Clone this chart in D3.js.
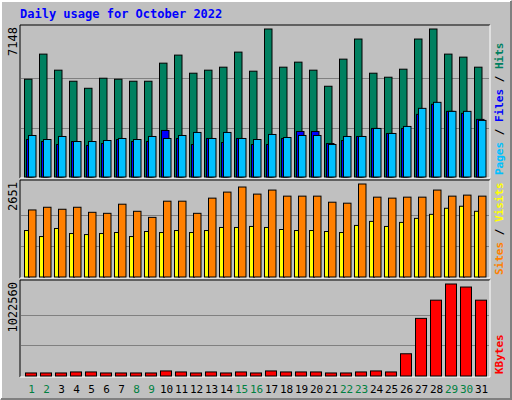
<!DOCTYPE html>
<html><head><meta charset="utf-8">
<script src="https://cdn.jsdelivr.net/npm/d3@7"></script>
<style>body{margin:0;background:#fff}svg{display:block}text{font-family:"DejaVu Sans Mono",monospace}</style>
</head><body><div id="chart"></div>
<script>
// data
const days = d3.range(1, 32);
const weekends = [1, 2, 8, 9, 15, 16, 22, 23, 29, 30];
const hits = [4722,5935,5159,4625,4285,4771,4722,4625,4625,5498,5887,5013,5159,5304,6032,5110,7148,5304,5547,5159,4383,5692,6663,5013,4819,5207,6663,7148,5935,5789,5304];
const files = [2005,1811,1957,1714,1714,1763,1860,1811,1957,1860,2005,2151,1860,2151,1860,1811,2054,1908,2005,2005,1569,1957,1957,2345,2102,2442,3315,3606,3170,3170,2733];
const pages = [1811,1714,1569,1714,1520,1617,1811,1714,1714,2248,1860,1569,1860,1666,1860,1569,1569,1860,2199,2199,1617,1763,1957,2345,2102,2345,3024,3509,3170,3073,2782];
const visits = [1911,1988,1931,1988,1844,1815,2075,1873,1700,2161,2161,1815,2248,2420,2565,2363,2478,2305,2305,2305,2132,2104,2651,2276,2248,2276,2276,2478,2305,2334,2305];
const sites = [1325,1153,1383,1239,1210,1239,1268,1153,1297,1268,1325,1268,1325,1412,1412,1441,1412,1354,1325,1325,1297,1268,1470,1585,1441,1556,1671,1786,1959,2017,1873];
const kbytes = [33712,33712,33712,44948,44948,33712,33712,33712,33712,56185,44948,33712,44948,33712,44948,33712,56185,44948,44948,44948,33712,33712,44948,56185,44948,247216,640506,842769,1022560,988850,842769];

const W = 512, H = 400;
const svg = d3.select("#chart").append("svg").attr("width", W).attr("height", H);

// background + bevel
svg.append("rect").attr("width", W).attr("height", H).attr("fill", "#C0C0C0");
svg.append("path").attr("d", `M1,${H-1}V1H${W-1}`).attr("stroke", "#fff").attr("stroke-width", 2).attr("fill", "none");
svg.append("path").attr("d", `M1,${H-1}H${W-1}V1`).attr("stroke", "#808080").attr("stroke-width", 2).attr("fill", "none");

svg.append("text").attr("x", 20).attr("y", 18).text("Daily usage for October 2022")
  .attr("fill", "#0000FF").attr("font-weight", "bold").attr("font-size", 12);

const x = d3.scaleBand().domain(days).range([20, 485]).paddingInner(0);

const panels = [
  { top: 25, bottom: 177, max: d3.max(hits), label: "7148",
    legend: [["Pages", "#00C0FF"], [" / ", "#000"], ["Files", "#0000FF"], [" / ", "#000"], ["Hits", "#008060"]],
    series: [
      { data: hits, color: "#008060", dx: 5, w: 7.5 },
      { data: pages, color: "#0000FF", dx: 7, w: 7.5 },
      { data: files, color: "#00C0FF", dx: 9, w: 7.5 }] },
  { top: 180, bottom: 277, max: d3.max(visits), label: "2651",
    legend: [["Sites", "#FF8000"], [" / ", "#000"], ["Visits", "#FFFF00"]],
    series: [
      { data: sites, color: "#FFFF00", dx: 5, w: 5 },
      { data: visits, color: "#FF8000", dx: 9, w: 7.5 }] },
  { top: 280, bottom: 376, max: d3.max(kbytes), label: "1022560",
    legend: [["KBytes", "#FF0000"]],
    series: [{ data: kbytes, color: "#FF0000", dx: 6, w: 11 }] }
];

panels.forEach((p) => {
  const y = d3.scaleLinear().domain([0, p.max]).range([p.bottom, p.top + 4]);
  // frame
  svg.append("path").attr("d", `M20,${p.bottom+1}V${p.top}H490`).attr("stroke", "#000").attr("fill", "none");
  svg.append("path").attr("d", `M20,${p.bottom+1}H490V${p.top}`).attr("stroke", "#fff").attr("fill", "none");
  // grid
  [1 / 3, 2 / 3].forEach((f) => {
    svg.append("line").attr("x1", 21).attr("x2", 489)
      .attr("y1", Math.round(y(p.max * f)) + 0.5).attr("y2", Math.round(y(p.max * f)) + 0.5)
      .attr("stroke", "#808080");
  });
  p.series.forEach((s) => {
    svg.append("g").selectAll("rect").data(s.data).enter().append("rect")
      .attr("x", (d, i) => x(days[i]) + s.dx - 0.5)
      .attr("y", (d) => y(d))
      .attr("width", s.w)
      .attr("height", (d) => p.bottom - y(d))
      .attr("fill", s.color).attr("stroke", "#000");
  });
  svg.append("text").attr("transform", `translate(17,${p.top + 2}) rotate(-90)`)
    .attr("text-anchor", "end").attr("font-size", 12).text(p.label);
  const t = svg.append("text").attr("transform", `translate(503,${p.bottom - 2}) rotate(-90)`)
    .attr("font-size", 11).attr("font-weight", "bold");
  p.legend.forEach(([s, c]) => t.append("tspan").attr("fill", c).text(s));
});

// day labels
svg.append("g").selectAll("text").data(days).enter().append("text")
  .attr("x", (d) => x(d) + 11.5).attr("y", 393).attr("text-anchor", "middle")
  .attr("font-size", 11)
  .attr("fill", (d) => (weekends.includes(d) ? "#008040" : "#000"))
  .text((d) => d);
</script></body></html>
